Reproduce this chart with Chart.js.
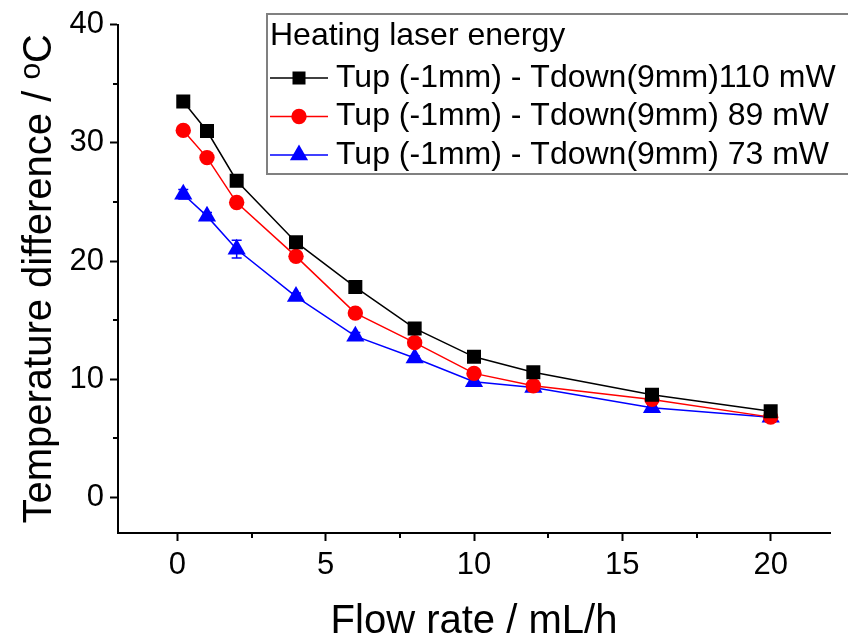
<!DOCTYPE html>
<html>
<head>
<meta charset="utf-8">
<script src="https://cdn.jsdelivr.net/npm/chart.js@4/dist/chart.umd.min.js"></script>
<style>
  html, body { margin: 0; padding: 0; background: #fff; overflow: hidden; }
  #wrap { width: 848px; height: 638px; }
</style>
</head>
<body>
<div id="wrap"><canvas id="c" width="848" height="638"></canvas></div>
<script>
// Flow rate (mL/h) and the temperature difference Tup - Tdown (°C) per heating power
const flowRate = [0.2, 1, 2, 4, 6, 8, 10, 12, 16, 20];
const dT110 = [33.5, 31.0, 26.8, 21.6, 17.8, 14.3, 11.9, 10.6, 8.7, 7.3];
const dT89  = [31.05, 28.75, 24.95, 20.4, 15.6, 13.1, 10.5, 9.45, 8.3, 6.8];
const dT73  = [25.65, 23.8, 21.0, 17.0, 13.65, 11.8, 9.8, 9.3, 7.6, 6.8];
const err73 = [0.4, 0.3, 0.75, 0.3, 0.3, 0.2, 0.2, 0.2, 0.2, 0.2];

const seriesNames = [
  'Tup (-1mm) - Tdown(9mm)110 mW',
  'Tup (-1mm) - Tdown(9mm) 89 mW',
  'Tup (-1mm) - Tdown(9mm) 73 mW'
];
const legendTitle = 'Heating laser energy';
const xTitle = 'Flow rate / mL/h';
const yTitleMain = 'Temperature difference / ';
const yTitleSup = 'o';
const yTitleUnit = 'C';

const xTicks = [0, 5, 10, 15, 20];
const yTicks = [0, 10, 20, 30, 40];
const xMinor = [2.5, 7.5, 12.5, 17.5];
const yMinor = [5, 15, 25, 35];

const FONT = '"Liberation Sans", Arial, Helvetica, sans-serif';
const toXY = ys => flowRate.map((x, i) => ({ x, y: ys[i] }));

const styles = [
  { color: '#000000', pointStyle: 'rect', radius: 9.9 },
  { color: '#ff0000', pointStyle: 'circle', radius: 7.7 },
  { color: '#0000ff', pointStyle: 'triangle', radius: 10.5 }
];
const seriesData = [dT110, dT89, dT73];

// Minor ticks, error bars, axis titles and the framed legend
const decor = {
  id: 'decor',
  beforeDatasetsDraw(chart) {
    const { ctx, chartArea, scales: { x, y } } = chart;
    ctx.save();
    ctx.strokeStyle = '#000';
    ctx.lineWidth = 2;
    xMinor.forEach(v => {
      const px = Math.round(x.getPixelForValue(v));
      ctx.beginPath();
      ctx.moveTo(px, chartArea.bottom);
      ctx.lineTo(px, chartArea.bottom + 5);
      ctx.stroke();
    });
    yMinor.forEach(v => {
      const py = Math.round(y.getPixelForValue(v));
      ctx.beginPath();
      ctx.moveTo(chartArea.left, py);
      ctx.lineTo(chartArea.left - 5, py);
      ctx.stroke();
    });
    // error bars of the 73 mW series
    ctx.strokeStyle = '#0000ff';
    ctx.lineWidth = 1.5;
    flowRate.forEach((fx, i) => {
      const px = x.getPixelForValue(fx);
      const yt = y.getPixelForValue(dT73[i] + err73[i]);
      const yb = y.getPixelForValue(dT73[i] - err73[i]);
      ctx.beginPath();
      ctx.moveTo(px, yt); ctx.lineTo(px, yb);
      ctx.moveTo(px - 5, yt); ctx.lineTo(px + 5, yt);
      ctx.moveTo(px - 5, yb); ctx.lineTo(px + 5, yb);
      ctx.stroke();
    });
    ctx.restore();
  },
  afterDraw(chart) {
    const { ctx, chartArea } = chart;
    ctx.save();
    ctx.fillStyle = '#000';

    // x axis title
    ctx.font = '40px ' + FONT;
    ctx.textAlign = 'center';
    ctx.textBaseline = 'alphabetic';
    ctx.fillText(xTitle, (chartArea.left + chartArea.right) / 2, 633);

    // y axis title with superscript o
    const mainFont = '40px ' + FONT;
    const supFont = '30px ' + FONT;
    ctx.font = mainFont;
    const wMain = ctx.measureText(yTitleMain).width;
    const wUnit = ctx.measureText(yTitleUnit).width;
    ctx.font = supFont;
    const wSup = ctx.measureText(yTitleSup).width;
    const total = wMain + wSup + wUnit;
    ctx.translate(51, (chartArea.top + chartArea.bottom) / 2);
    ctx.rotate(-Math.PI / 2);
    ctx.textAlign = 'left';
    let sx = -total / 2;
    ctx.font = mainFont;
    ctx.fillText(yTitleMain, sx, 0);
    sx += wMain;
    ctx.font = supFont;
    ctx.fillText(yTitleSup, sx, -11);
    sx += wSup;
    ctx.font = mainFont;
    ctx.fillText(yTitleUnit, sx, 0);
    ctx.restore();

    // legend box
    ctx.save();
    ctx.strokeStyle = '#808080';
    ctx.lineWidth = 2;
    ctx.strokeRect(267, 14, 600, 160);
    ctx.fillStyle = '#000';
    ctx.font = '32px ' + FONT;
    ctx.textAlign = 'left';
    ctx.textBaseline = 'alphabetic';
    ctx.fillText(legendTitle, 270, 45);
    const rowY = [78, 116.5, 155];
    seriesNames.forEach((name, i) => {
      const st = styles[i];
      const cy = rowY[i];
      ctx.strokeStyle = st.color;
      ctx.lineWidth = 1.5;
      ctx.beginPath();
      ctx.moveTo(270, cy); ctx.lineTo(328, cy);
      ctx.stroke();
      ctx.fillStyle = st.color;
      Chart.helpers.drawPoint(ctx, {
        pointStyle: st.pointStyle,
        radius: st.pointStyle === 'rect' ? 9.2 : st.radius,
        rotation: 0,
        borderWidth: 0
      }, 299, cy);
      ctx.fillStyle = '#000';
      ctx.fillText(name, 336, cy + 8.5);
    });
    ctx.restore();
  }
};

const datasets = seriesData.map((ys, i) => ({
  label: seriesNames[i],
  data: toXY(ys),
  borderColor: styles[i].color,
  backgroundColor: styles[i].color,
  pointBackgroundColor: styles[i].color,
  pointBorderWidth: 0,
  pointStyle: styles[i].pointStyle,
  pointRadius: styles[i].radius,
  borderWidth: 1.5,
  tension: 0,
  fill: false
}));

new Chart(document.getElementById('c'), {
  type: 'line',
  data: { datasets },
  plugins: [decor],
  options: {
    responsive: false,
    animation: false,
    devicePixelRatio: 1,
    layout: { padding: { top: 23, right: 18, left: 0, bottom: 0 } },
    plugins: { legend: { display: false }, tooltip: { enabled: false } },
    scales: {
      x: {
        type: 'linear',
        min: -2, max: 22,
        afterBuildTicks: s => { s.ticks = xTicks.map(v => ({ value: v })); },
        afterFit: s => { s.height = 105; },
        grid: { display: true, drawOnChartArea: false, drawTicks: true, tickLength: 8, tickColor: '#000', tickWidth: 2 },
        border: { display: true, color: '#000', width: 2 },
        ticks: { font: { family: FONT, size: 31 }, color: '#000', padding: 6, maxRotation: 0, autoSkip: false }
      },
      y: {
        type: 'linear',
        min: -3, max: 40,
        afterBuildTicks: s => { s.ticks = yTicks.map(v => ({ value: v })); },
        afterFit: s => { s.width = 118; },
        grid: { display: true, drawOnChartArea: false, drawTicks: true, tickLength: 8, tickColor: '#000', tickWidth: 2 },
        border: { display: true, color: '#000', width: 2 },
        ticks: { font: { family: FONT, size: 31 }, color: '#000', padding: 6, autoSkip: false }
      }
    }
  }
});
</script>
</body>
</html>
